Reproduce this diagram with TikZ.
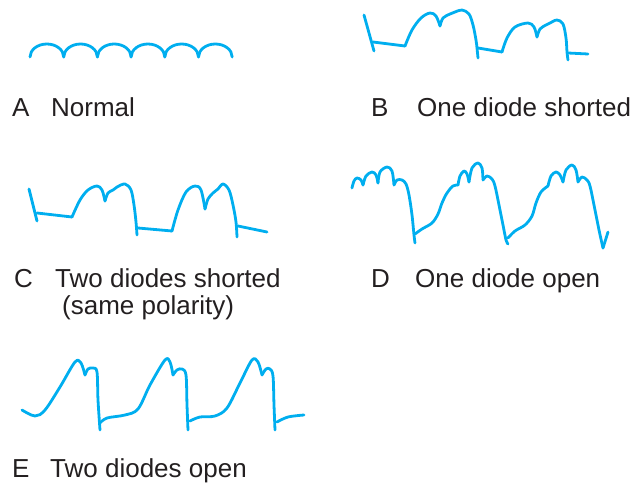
\documentclass[tikz,border=0pt]{standalone}
\usepackage{fontspec}
\setmainfont{Liberation Sans}
\definecolor{wave}{RGB}{0,174,239}
\definecolor{ink}{RGB}{35,31,32}
\tikzset{
  wv/.style={draw=wave, line width=2.8pt, line cap=round, line join=round},
  sm/.style={wv, smooth, tension=0.55},
  lbl/.style={anchor=base west, inner sep=0pt, text=ink, font=\fontsize{26}{30}\selectfont}
}
\begin{document}
\begin{tikzpicture}[x=1pt,y=-1pt]
\useasboundingbox (0,0) rectangle (643,484);
% A normal
\foreach \i in {0,...,5}{
  \draw[wv] ({30+33.7*\i},57) arc[start angle=180,end angle=360,x radius=16.85,y radius=13];
}
% B one diode shorted
\draw[wv] (364,15) -- (374,51);
\draw[wv] (373,42) -- (405,46);
\draw[sm] plot coordinates {(405,46) (412,30) (421,18) (430,13) (436,16) (440,26)};
\draw[sm] plot coordinates {(440,26) (443,18) (450,14) (455,12) (462,10) (469,14) (473,25) (476,40) (477,48) (478,58)};
\draw[wv] (478,48) -- (502,52);
\draw[sm] plot coordinates {(502,52) (507,38) (515,27) (528,23) (534,27) (537,37)};
\draw[sm] plot coordinates {(537,37) (540,29) (546,25) (550,23) (557,20) (563,24) (566,38) (567,52) (568,60)};
\draw[wv] (568,53) -- (588,54);
% C two diodes shorted
\draw[wv] (29,189) -- (37,221);
\draw[wv] (37,213) -- (72,217);
\draw[sm] plot coordinates {(72,217) (80,200) (88,190) (97,186) (102,190) (105,201)};
\draw[sm] plot coordinates {(105,201) (108,193) (113,190) (117,187) (125,184) (131,190) (134,205) (136,222) (137,235)};
\draw[wv] (138,228) -- (172,231);
\draw[sm] plot coordinates {(172,231) (178,210) (186,192) (195,186) (201,190) (205,209)};
\draw[sm] plot coordinates {(205,209) (208,199) (213,193) (218,189) (223,184) (229,190) (233,205) (236,222) (237,237)};
\draw[wv] (238,226) -- (267,232);
% D one diode open
\draw[sm] plot coordinates {(352,188) (354,181) (357,178) (361,180) (363,185)};
\draw[sm] plot coordinates {(363,185) (366,176) (372,172) (376,175) (378,183)};
\draw[sm] plot coordinates {(378,183) (380,172) (387,167) (392,171) (394,185)};
\draw[sm] plot coordinates {(394,185) (397,180) (402,180) (406,184) (409,195) (412,215) (414,235) (415,243)};
\draw[sm] plot coordinates {(415,234) (422,229) (432,223) (438,214) (442,203) (447,193) (453,186) (458,185)};
\draw[sm] plot coordinates {(458,185) (460,176) (464,171) (467,174) (469,182)};
\draw[sm] plot coordinates {(469,182) (472,168) (478,163) (482,168) (483,180)};
\draw[sm] plot coordinates {(483,180) (487,176) (492,179) (495,186) (499,205) (503,225) (506,240) (508,244)};
\draw[sm] plot coordinates {(508,238) (515,231) (525,225) (532,216) (536,203) (541,192) (548,186)};
\draw[sm] plot coordinates {(548,186) (551,176) (556,172) (560,175) (563,182)};
\draw[sm] plot coordinates {(563,182) (566,170) (572,165) (576,170) (578,182)};
\draw[sm] plot coordinates {(578,182) (582,177) (587,180) (590,186) (594,205) (599,230) (603,248)};
\draw[wv] (603,248) -- (608,232);
% E two diodes open
\draw[sm] plot coordinates {(22,410) (35,416) (45,410) (60,387) (75,362) (81,363) (85,375)};
\draw[sm] plot coordinates {(85,375) (88,369) (93,368) (97,372) (98,400) (100,430)};
\draw[sm] plot coordinates {(100,423) (107,418) (125,415) (138,409) (150,385) (165,360) (170,362) (173,375)};
\draw[sm] plot coordinates {(173,375) (177,370) (182,369) (186,375) (187,405) (188,430)};
\draw[sm] plot coordinates {(190,421) (200,417) (215,416) (227,408) (240,383) (252,360) (258,362) (262,375)};
\draw[sm] plot coordinates {(262,375) (266,369) (270,369) (273,376) (274,405) (275,430)};
\draw[sm] plot coordinates {(277,422) (288,417) (304,415)};
% labels
\node[lbl] (la) at (12,117) {A};
\node[lbl] (ta) at (51,117) {Normal};
\node[lbl] (lb) at (371,117) {B};
\node[lbl] (tb) at (417,117) {One diode shorted};
\node[lbl] (lc) at (14,287) {C};
\node[lbl] (tc) at (55,287) {Two diodes shorted};
\node[lbl] (tc2) at (62,314) {(same polarity)};
\node[lbl] (ld) at (371,287) {D};
\node[lbl] (td) at (415,287) {One diode open};
\node[lbl] (le) at (12,477) {E};
\node[lbl] (te) at (50,477) {Two diodes open};
\end{tikzpicture}
\end{document}
